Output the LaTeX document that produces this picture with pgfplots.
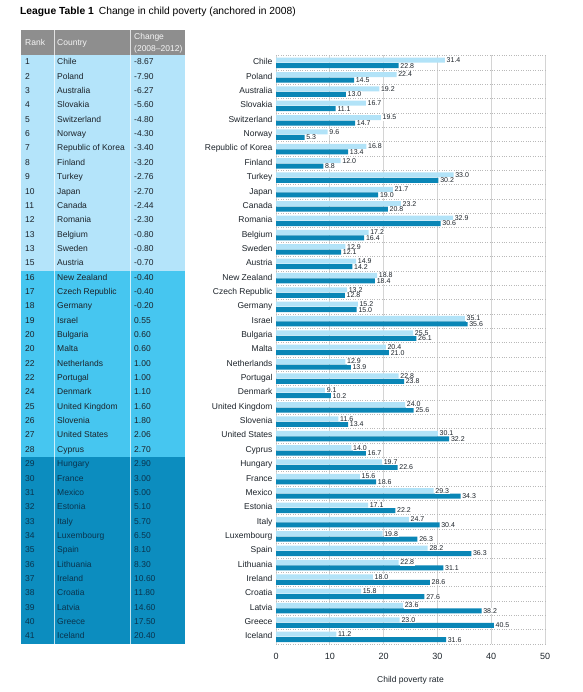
\documentclass[border=0pt]{standalone}
\usepackage{fontspec}
\setmainfont{Liberation Sans}
\usepackage{pgfplots}
\pgfplotsset{compat=1.18}
\definecolor{lightbar}{HTML}{B2E3F8}
\definecolor{darkbar}{HTML}{0A86B6}
\definecolor{tlight}{HTML}{B4E4FA}
\definecolor{tmed}{HTML}{46C6F0}
\definecolor{tdark}{HTML}{0C8DBF}
\definecolor{thead}{HTML}{8E8E8E}
\definecolor{gridgray}{HTML}{D4D4D4}
\definecolor{ttext}{HTML}{1C232A}
\definecolor{tnavy}{HTML}{0A344E}
\begin{document}
\begin{tikzpicture}
\path[use as bounding box] (0pt,0pt) rectangle (582pt,-692pt);
% title
\node[anchor=west, inner sep=0pt, font=\fontsize{10.3}{12}\selectfont] at (20pt,-12pt) {\textbf{League Table 1}\hspace{5pt}Change in child poverty (anchored in 2008)};
% table backgrounds
\fill[thead] (20.5pt,-30pt) rectangle (185pt,-55.5pt);
\fill[tlight] (20.5pt,-55.5pt) rectangle (185pt,-270.75pt);
\fill[tmed] (20.5pt,-270.75pt) rectangle (185pt,-457.3pt);
\fill[tdark] (20.5pt,-457.3pt) rectangle (185pt,-643.85pt);
\draw[white, opacity=0.75, line width=0.8pt] (54pt,-30pt) -- (54pt,-643.85pt) (130.5pt,-30pt) -- (130.5pt,-643.85pt);
% header
\tikzset{tab/.style={anchor=west, inner sep=0pt, text height=6.2pt, text depth=1.8pt, font=\fontsize{8.5}{9}\selectfont}}
\node[tab, text=white!92!gray] at (25pt,-43pt) {Rank};
\node[tab, text=white!92!gray] at (57pt,-43pt) {Country};
\node[tab, text=white!92!gray] at (134pt,-37pt) {Change};
\node[tab, text=white!92!gray] at (134pt,-49pt) {(2008--2012)};
% table rows
\foreach \r/\c/\v [count=\i from 0] in {1/Chile/-8.67, 2/Poland/-7.90, 3/Australia/-6.27, 4/Slovakia/-5.60, 5/Switzerland/-4.80, 6/Norway/-4.30, 7/Republic of Korea/-3.40, 8/Finland/-3.20, 9/Turkey/-2.76, 10/Japan/-2.70, 11/Canada/-2.44, 12/Romania/-2.30, 13/Belgium/-0.80, 13/Sweden/-0.80, 15/Austria/-0.70, 16/New Zealand/-0.40, 17/Czech Republic/-0.40, 18/Germany/-0.20, 19/Israel/0.55, 20/Bulgaria/0.60, 20/Malta/0.60, 22/Netherlands/1.00, 22/Portugal/1.00, 24/Denmark/1.10, 25/United Kingdom/1.60, 26/Slovenia/1.80, 27/United States/2.06, 28/Cyprus/2.70, 29/Hungary/2.90, 30/France/3.00, 31/Mexico/5.00, 32/Estonia/5.10, 33/Italy/5.70, 34/Luxembourg/6.50, 35/Spain/8.10, 36/Lithuania/8.30, 37/Ireland/10.60, 38/Croatia/11.80, 39/Latvia/14.60, 40/Greece/17.50, 41/Iceland/20.40}{
  \pgfmathsetmacro\yy{-(55.5+14.35*(\i+0.5))}
  \ifnum\i>27 \def\tc{tnavy}\else\def\tc{ttext}\fi
  \node[tab, text=\tc] at (25pt,\yy pt) {\r};
  \node[tab, text=\tc] at (57pt,\yy pt) {\c};
  \node[tab, text=\tc] at (134pt,\yy pt) {\v};
}
\begin{axis}[
  at={(276pt,-643.85pt)}, anchor=south west,
  xbar, scale only axis, width=269pt, height=588.35pt,
  xmin=0, xmax=50, ymin=-0.5, ymax=40.5,
  axis line style={draw=none},
  xtick={0,10,...,50}, ytick={0,...,40},
  yticklabels={Iceland,Greece,Latvia,Croatia,Ireland,Lithuania,Spain,Luxembourg,Italy,Estonia,Mexico,France,Hungary,Cyprus,United States,Slovenia,United Kingdom,Denmark,Portugal,Netherlands,Malta,Bulgaria,Israel,Germany,Czech Republic,New Zealand,Austria,Sweden,Belgium,Romania,Canada,Japan,Turkey,Finland,Republic of Korea,Norway,Switzerland,Slovakia,Australia,Poland,Chile},
  minor ytick={-0.5,0.5,...,40.5},
  major tick length=0pt, minor tick length=0pt,
  xmajorgrids, yminorgrids,
  major grid style={draw=gridgray, line width=0.7pt},
  minor grid style={draw=gray!55, dotted, line width=0.5pt},
  yticklabel style={font=\fontsize{8.5}{9}\selectfont, text=ttext, text height=6.2pt, text depth=1.8pt},
  xticklabel style={font=\fontsize{9}{10}\selectfont, text=ttext, yshift=-6pt},
  /pgf/number format/assume math mode=true,
  xlabel={Child poverty rate},
  xlabel style={font=\fontsize{8.5}{10}\selectfont, text=ttext, at={(axis description cs:0.5,0)}, anchor=center, yshift=-36pt},
  bar width=5pt,
  point meta=x,
  nodes near coords={\pgfmathprintnumber[fixed,fixed zerofill,precision=1]{\pgfplotspointmeta}},
  nodes near coords style={font=\fontsize{7}{7.5}\selectfont, text=ttext, fill=white, inner sep=0.6pt, anchor=west, xshift=1pt},
]
\addplot[fill=lightbar, draw=none, bar shift=2.5pt] coordinates {
(31.4,40) (22.4,39) (19.2,38) (16.7,37) (19.5,36) (9.6,35) (16.8,34) (12.0,33) (33.0,32) (21.7,31) (23.2,30) (32.9,29) (17.2,28) (12.9,27) (14.9,26) (18.8,25) (13.2,24) (15.2,23) (35.1,22) (25.5,21) (20.4,20) (12.9,19) (22.8,18) (9.1,17) (24.0,16) (11.6,15) (30.1,14) (14.0,13) (19.7,12) (15.6,11) (29.3,10) (17.1,9) (24.7,8) (19.8,7) (28.2,6) (22.8,5) (18.0,4) (15.8,3) (23.6,2) (23.0,1) (11.2,0)
};
\addplot[fill=darkbar, draw=none, bar shift=-3pt] coordinates {
(22.8,40) (14.5,39) (13.0,38) (11.1,37) (14.7,36) (5.3,35) (13.4,34) (8.8,33) (30.2,32) (19.0,31) (20.8,30) (30.6,29) (16.4,28) (12.1,27) (14.2,26) (18.4,25) (12.8,24) (15.0,23) (35.6,22) (26.1,21) (21.0,20) (13.9,19) (23.8,18) (10.2,17) (25.6,16) (13.4,15) (32.2,14) (16.7,13) (22.6,12) (18.6,11) (34.3,10) (22.2,9) (30.4,8) (26.3,7) (36.3,6) (31.1,5) (28.6,4) (27.6,3) (38.2,2) (40.5,1) (31.6,0)
};
\end{axis}
\end{tikzpicture}
\end{document}
